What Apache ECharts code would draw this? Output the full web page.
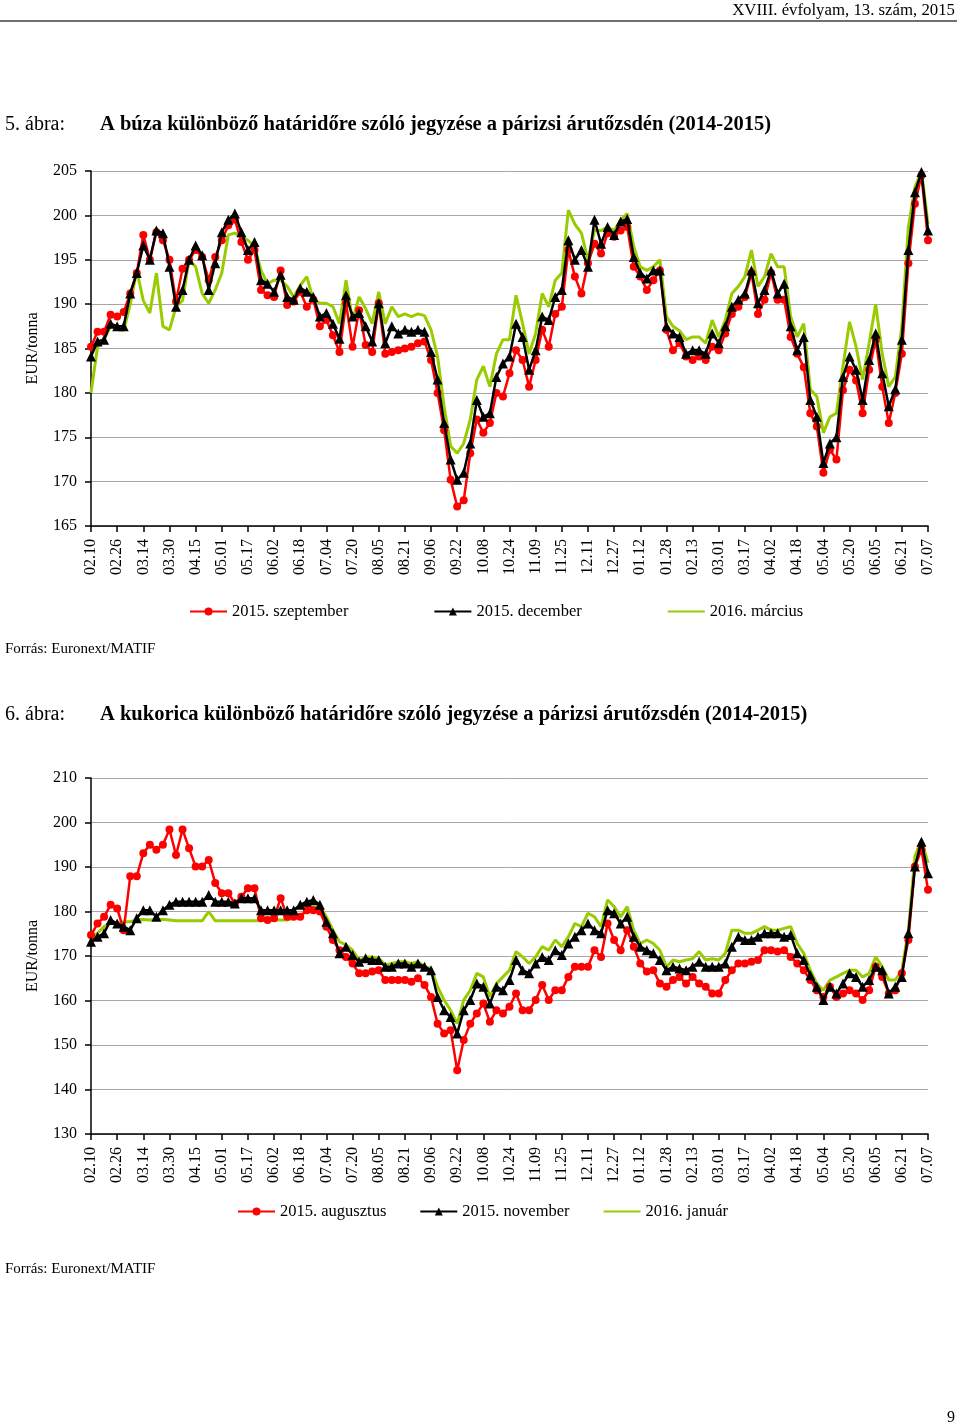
<!DOCTYPE html>
<html><head><meta charset="utf-8">
<script src="https://cdn.jsdelivr.net/npm/echarts@6/dist/echarts.min.js"></script>
<style>html,body{margin:0;padding:0;background:#fff}#c{width:960px;height:1426px}</style>
</head><body><div id="c"></div><script>
// Dates sampled every 4 calendar days, 2014-02-10 .. 2015-07-07
const dates = ['02.10','02.14','02.18','02.22','02.26','03.02','03.06','03.10','03.14','03.18','03.22','03.26','03.30','04.03','04.07','04.11','04.15','04.19','04.23','04.27','05.01','05.05','05.09','05.13','05.17','05.21','05.25','05.29','06.02','06.06','06.10','06.14','06.18','06.22','06.26','06.30','07.04','07.08','07.12','07.16','07.20','07.24','07.28','08.01','08.05','08.09','08.13','08.17','08.21','08.25','08.29','09.02','09.06','09.10','09.14','09.18','09.22','09.26','09.30','10.04','10.08','10.12','10.16','10.20','10.24','10.28','11.01','11.05','11.09','11.13','11.17','11.21','11.25','11.29','12.03','12.07','12.11','12.15','12.19','12.23','12.27','12.31','01.04','01.08','01.12','01.16','01.20','01.24','01.28','02.01','02.05','02.09','02.13','02.17','02.21','02.25','03.01','03.05','03.09','03.13','03.17','03.21','03.25','03.29','04.02','04.06','04.10','04.14','04.18','04.22','04.26','04.30','05.04','05.08','05.12','05.16','05.20','05.24','05.28','06.01','06.05','06.09','06.13','06.17','06.21','06.25','06.29','07.03','07.07'];

// Wheat (búza), EUR/tonna
const wheatSep = [185.2,186.9,186.9,188.8,188.6,189.1,191.2,193.5,197.8,195.0, 198.1,197.2,195.0,190.3,194.0,195.0,196.1,195.3,192.7,195.3, 197.2,198.9,199.5,197.0,195.0,196.1,191.6,191.0,190.8,193.8, 189.9,190.3,191.4,189.7,190.5,187.5,188.2,186.5,184.6,190.1, 185.2,189.3,185.4,184.6,190.1,184.4,184.6,184.8,185.0,185.2, 185.6,185.8,183.7,180.0,175.8,170.2,167.2,167.9,173.2,177.0, 175.5,176.6,180.0,179.6,182.2,184.8,183.7,180.7,183.7,187.1, 185.2,188.9,189.7,196.1,193.1,191.2,194.6,196.8,195.7,198.0, 197.6,198.3,198.7,194.2,193.1,191.6,192.7,193.8,187.1,184.8, 185.6,184.1,183.7,184.1,183.7,185.2,184.8,186.7,188.9,189.7, 190.8,193.5,188.9,190.5,193.5,190.5,190.5,186.3,184.4,182.9, 177.7,176.2,171.0,173.6,172.5,180.3,182.6,181.4,177.7,182.6, 186.0,180.7,176.6,180.0,184.4,194.6,201.3,204.5,197.2];
const wheatDec = [184.1,185.8,186.0,187.8,187.5,187.5,191.2,193.5,196.6,195.0, 198.3,198.0,194.2,189.7,191.6,195.0,196.6,195.5,191.6,194.6, 198.1,199.5,200.2,198.1,196.1,197.0,192.7,192.3,191.4,193.3, 190.8,190.5,191.8,191.4,190.8,188.6,189.0,187.8,186.1,191.0, 188.6,189.0,187.5,185.8,190.1,185.6,187.5,186.7,187.1,186.9, 187.1,186.9,184.6,181.5,176.6,172.5,170.2,171.0,174.3,179.2, 177.3,177.7,181.8,183.3,184.1,187.8,186.3,182.6,184.8,188.6, 188.2,190.8,191.6,197.2,195.0,196.1,194.2,199.5,196.8,198.7, 197.8,199.3,199.6,195.3,193.5,192.9,193.8,193.8,187.5,186.7, 186.3,184.4,184.8,184.8,184.4,186.7,185.6,187.5,189.7,190.5, 191.2,193.8,190.1,191.6,193.8,191.2,192.3,187.5,184.8,186.3, 179.2,177.3,172.1,174.3,175.0,181.8,184.1,182.6,179.2,183.7, 186.7,182.2,178.5,180.4,186.0,196.1,202.6,204.9,198.3];
const wheatMar = [180.0,185.2,186.0,187.5,187.5,187.0,190.0,193.8,190.4,189.0, 193.5,187.5,187.1,189.7,190.4,195.0,194.2,191.2,190.1,191.6, 193.5,197.8,198.0,197.6,197.2,196.5,193.8,192.3,192.7,192.7, 192.0,190.8,192.1,193.1,190.5,190.1,190.1,189.7,187.8,192.7, 188.2,190.8,189.5,187.8,191.4,187.8,189.7,188.6,188.9,188.6, 188.9,188.7,187.1,184.1,178.5,174.0,173.2,174.3,177.0,181.5, 183.0,180.7,184.4,186.0,186.0,191.0,187.8,184.4,186.7,191.2, 189.7,192.7,193.5,200.6,199.0,198.0,195.0,198.3,198.3,198.7, 198.3,199.5,200.2,196.5,194.2,193.8,194.2,195.0,188.6,187.5, 187.0,186.0,186.3,186.3,185.6,188.2,186.3,188.2,191.2,192.0, 193.1,196.1,192.0,193.1,195.7,194.2,194.2,188.6,186.3,187.8, 180.4,179.6,175.5,177.3,177.7,183.0,188.0,185.2,181.5,185.6, 190.0,184.4,180.7,181.8,187.5,198.7,203.2,205.0,199.0];

// Corn (kukorica), EUR/tonna
const cornAug = [174.7,177.3,178.8,181.5,180.7,175.8,187.9,187.9,193.1,195.0, 193.9,195.0,198.4,192.7,198.4,194.2,190.1,190.1,191.6,186.4, 184.1,184.1,181.8,183.3,185.2,185.2,178.5,178.1,178.5,183.0, 178.8,178.8,178.8,180.3,180.3,180.0,176.6,173.6,171.3,169.8, 168.3,166.1,166.1,166.5,166.8,164.6,164.6,164.6,164.6,164.2, 165.0,163.5,160.8,154.8,152.6,153.3,144.3,151.1,154.8,157.1, 159.3,155.2,157.8,157.1,158.6,161.6,157.8,157.8,160.1,163.5, 160.1,162.3,162.3,165.3,167.6,167.6,167.6,171.3,169.8,177.3, 173.6,171.3,175.8,172.1,168.3,166.5,166.8,163.8,163.1,164.6, 165.3,163.8,165.3,163.8,163.1,161.6,161.6,164.6,166.8,168.3, 168.3,168.7,169.1,171.3,171.3,171.0,171.3,169.8,168.3,166.8, 164.6,162.3,160.8,163.1,160.8,161.6,162.3,161.6,160.1,162.3, 167.6,165.3,161.6,162.3,166.1,173.6,190.1,193.9,184.9];
const cornNov = [173.2,174.3,175.1,178.1,177.3,176.6,175.8,178.5,180.3,180.3, 178.8,180.3,181.5,182.2,182.2,182.2,182.2,182.2,183.7,182.2, 182.2,182.2,181.8,183.0,183.0,183.0,180.3,180.3,180.3,180.3, 180.3,180.3,181.5,182.2,182.6,181.5,177.7,175.1,170.6,172.1, 170.2,168.7,169.5,169.1,169.1,167.6,167.6,168.3,168.3,167.6, 168.3,167.6,166.8,160.8,157.8,156.3,152.6,157.8,160.1,163.8, 163.1,159.3,163.1,162.3,164.6,169.1,166.8,166.1,168.3,169.8, 169.1,171.3,170.2,172.8,174.3,175.8,177.3,175.8,175.1,180.3, 179.6,177.3,178.8,174.3,172.1,171.3,170.6,169.1,166.8,167.6, 167.2,166.8,167.6,168.7,167.6,167.6,167.6,168.3,172.1,174.3, 173.6,173.6,174.3,175.1,175.1,175.1,174.3,174.7,170.6,169.1, 165.7,163.1,160.1,163.1,161.6,163.8,166.1,165.3,163.1,164.6, 167.6,166.8,161.6,163.1,165.3,175.1,190.1,195.7,188.6];
const cornJan = [174.0,175.1,176.6,177.3,177.3,177.7,177.7,178.1,178.2,178.1, 178.2,178.2,178.1,177.9,177.9,177.9,177.9,177.9,180.0,177.9, 177.9,177.9,177.9,177.9,177.9,177.9,177.9,178.1,178.1,178.1, 178.1,178.5,178.8,180.7,181.5,181.1,178.8,175.8,173.2,172.5, 171.3,169.1,169.8,169.8,169.5,168.0,168.3,168.7,168.7,168.3, 168.7,167.6,167.2,163.1,160.1,157.8,154.8,160.1,162.3,166.1, 165.3,160.8,163.8,165.3,166.8,171.0,169.8,168.3,169.8,172.1, 171.3,173.6,172.1,174.3,177.3,176.6,179.6,178.8,176.6,182.6, 181.1,178.8,181.1,175.8,172.8,173.6,172.8,171.3,167.6,169.1, 168.7,169.1,169.4,171.0,169.1,169.4,169.1,170.6,175.8,175.8, 175.1,175.1,175.8,176.6,175.8,175.8,176.2,176.6,172.8,170.6, 166.8,163.8,162.3,164.6,165.3,166.1,166.8,166.8,165.3,166.1, 169.8,167.6,164.6,164.6,166.8,175.8,192.4,196.1,190.9];

const wheatNames = ['2015. szeptember','2015. december','2016. március'];
const cornNames = ['2015. augusztus','2015. november','2016. január'];
const wheatTicks = {min:165, max:205, interval:5};
const cornTicks = {min:130, max:210, interval:10};

const FONT = '"Liberation Serif","Times New Roman",serif';
const RED = '#FF0000', BLACK = '#000000', GREEN = '#99CC00';

function xAxisCfg(gi){
  return {type:'category', gridIndex:gi, data:dates, boundaryGap:false,
    axisLine:{lineStyle:{color:'#000',width:1.5}},
    axisTick:{interval:3,length:6,lineStyle:{color:'#000',width:1.5}},
    axisLabel:{interval:3,rotate:90,margin:13,color:'#000',fontFamily:FONT,fontSize:16},
    splitLine:{show:false}};
}
function yAxisCfg(gi,t){
  return {type:'value', gridIndex:gi, min:t.min, max:t.max, interval:t.interval,
    name:'EUR/tonna', nameLocation:'middle', nameGap:50,
    nameTextStyle:{fontFamily:FONT,fontSize:16,color:'#000'},
    axisLine:{show:true,lineStyle:{color:'#000',width:1.5}},
    axisTick:{show:true,length:6,lineStyle:{color:'#000',width:1.5}},
    axisLabel:{margin:14,color:'#000',fontFamily:FONT,fontSize:16},
    splitLine:{show:true,lineStyle:{color:'#A6A6A6',width:1}}};
}
function lineSeries(name,gi,data,kind){
  const s = {name, type:'line', xAxisIndex:gi, yAxisIndex:gi, data, animation:false, showAllSymbol:true};
  if(kind==='green'){
    Object.assign(s,{symbol:'none',lineStyle:{color:GREEN,width:3},itemStyle:{color:GREEN},z:2});
  } else if(kind==='red'){
    Object.assign(s,{symbol:'circle',symbolSize:8,lineStyle:{color:RED,width:2.5},itemStyle:{color:RED},z:3});
  } else {
    Object.assign(s,{symbol:'triangle',symbolSize:10,lineStyle:{color:BLACK,width:2.5},itemStyle:{color:BLACK},z:4});
  }
  return s;
}
function txt(x,y,text,size,opts){
  return {type:'text',x,y,style:Object.assign({text,fill:'#000',font:size+'px '+FONT,textVerticalAlign:'middle'},opts||{})};
}
function legendData(names){
  return [{name:names[0]},{name:names[1]},{name:names[2],itemStyle:{opacity:0}}];
}
const legendText = {fontFamily:FONT,fontSize:16.5,color:'#000'};

const chart = echarts.init(document.getElementById('c'));
chart.setOption({
  animation:false,
  backgroundColor:'#fff',
  grid:[
    {left:91,right:32,top:171,height:355},
    {left:91,right:32,top:778,height:356}
  ],
  xAxis:[xAxisCfg(0),xAxisCfg(1)],
  yAxis:[yAxisCfg(0,wheatTicks),yAxisCfg(1,cornTicks)],
  legend:[
    {data:legendData(wheatNames),top:603,left:189,padding:0,itemGap:85,itemWidth:37,itemHeight:10,textStyle:legendText},
    {data:legendData(cornNames),top:1203,left:237,padding:0,itemGap:33,itemWidth:37,itemHeight:10,textStyle:legendText}
  ],
  series:[
    lineSeries(wheatNames[2],0,wheatMar,'green'),
    lineSeries(wheatNames[0],0,wheatSep,'red'),
    lineSeries(wheatNames[1],0,wheatDec,'black'),
    lineSeries(cornNames[2],1,cornJan,'green'),
    lineSeries(cornNames[0],1,cornAug,'red'),
    lineSeries(cornNames[1],1,cornNov,'black')
  ],
  graphic:[
    txt(955,11,'XVIII. évfolyam, 13. szám, 2015',16.8,{textAlign:'right'}),
    {type:'line',shape:{x1:0,y1:21,x2:957,y2:21},style:{stroke:'#404040',lineWidth:1.5}},
    txt(5,125,'5. ábra:',20),
    txt(100,125,'A búza különböző határidőre szóló jegyzése a párizsi árutőzsdén (2014-2015)',20.5,{font:'bold 20.5px '+FONT}),
    txt(5,649,'Forrás: Euronext/MATIF',15),
    txt(5,715,'6. ábra:',20),
    txt(100,715,'A kukorica különböző határidőre szóló jegyzése a párizsi árutőzsdén (2014-2015)',20.5,{font:'bold 20.5px '+FONT}),
    txt(5,1269,'Forrás: Euronext/MATIF',15),
    txt(955,1418,'9',16,{textAlign:'right'})
  ]
});
</script></body></html>
